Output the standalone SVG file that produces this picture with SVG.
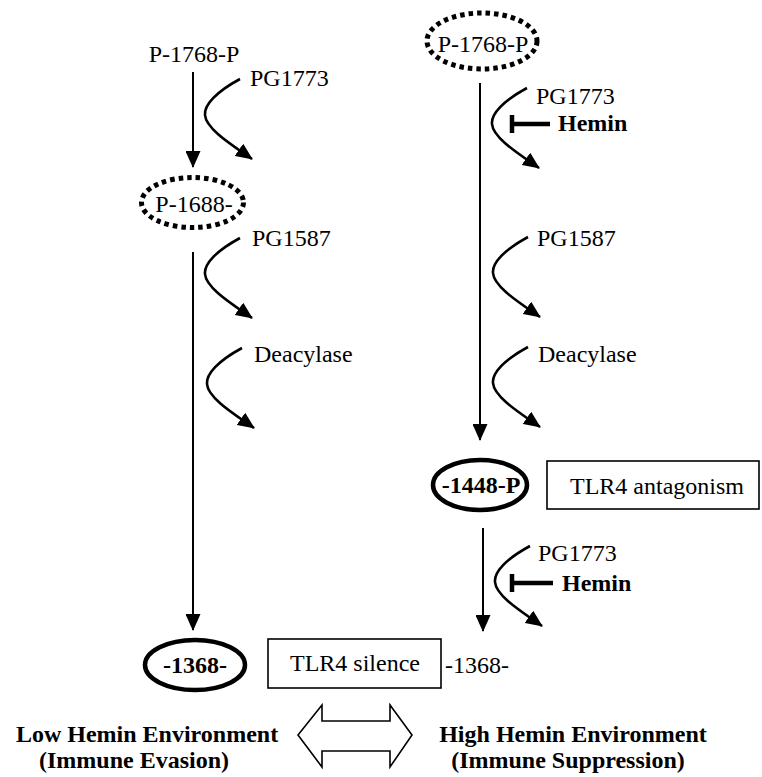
<svg xmlns="http://www.w3.org/2000/svg" xmlns:xlink="http://www.w3.org/1999/xlink" width="762" height="777" viewBox="0 0 762 777">
<style>
text{font-family:"Liberation Serif","Times New Roman",serif;font-size:24px;fill:#000}
.b{font-weight:bold}
.ln{stroke:#000;stroke-width:2;fill:none}
.cv{stroke:#000;stroke-width:2.6;fill:none}
.dot{fill:none;stroke:#000;stroke-width:5;stroke-dasharray:4.5 4}
.thick{fill:#fff;stroke:#000;stroke-width:4.5}
.box{fill:#fff;stroke:#000;stroke-width:1.6}
.bar{stroke:#000;stroke-width:4.5;fill:none}
</style>
<defs>
<marker id="ah" markerUnits="userSpaceOnUse" markerWidth="17" markerHeight="15" refX="16" refY="7.5" orient="auto">
<path d="M0,0 L17,7.5 L0,15 z" fill="#000"/>
</marker>
<path id="curve" d="M0,0 C-24,13 -36,26 -35,36 C-34,50 -8,66 12,80" class="cv" marker-end="url(#ah)"/>
</defs>

<g id="connectors">
<line class="ln" x1="193" y1="72" x2="193" y2="167" marker-end="url(#ah)"/>
<line class="ln" x1="193" y1="252" x2="193" y2="630" marker-end="url(#ah)"/>
<line class="ln" x1="480" y1="83" x2="480" y2="440" marker-end="url(#ah)"/>
<line class="ln" x1="483" y1="528" x2="483" y2="631" marker-end="url(#ah)"/>
<use xlink:href="#curve" x="240" y="79"/>
<use xlink:href="#curve" x="240" y="238"/>
<use xlink:href="#curve" x="242" y="348"/>
<use xlink:href="#curve" x="527" y="88"/>
<use xlink:href="#curve" x="528" y="237"/>
<use xlink:href="#curve" x="528" y="347"/>
<use xlink:href="#curve" x="530" y="546"/>
<path class="bar" d="M512,124 H550 M512,115 V133"/>
<path class="bar" d="M512,583 H553 M512,574 V592"/>
</g>

<g id="n-left-top"><text x="194" y="62" text-anchor="middle">P-1768-P</text></g>
<g id="lbl-pg1773-l"><text x="250" y="86">PG1773</text></g>
<g id="n-p1688">
<ellipse class="dot" cx="192.5" cy="202.5" rx="51" ry="25"/>
<text x="194" y="212" text-anchor="middle">P-1688-</text>
</g>
<g id="lbl-pg1587-l"><text x="252" y="246">PG1587</text></g>
<g id="lbl-deacylase-l"><text x="254" y="362">Deacylase</text></g>

<g id="n-right-top">
<ellipse class="dot" cx="482" cy="41" rx="55" ry="28"/>
<text x="483" y="52" text-anchor="middle">P-1768-P</text>
</g>
<g id="lbl-pg1773-r1"><text x="536" y="104">PG1773</text></g>
<g id="lbl-hemin-r1"><text class="b" x="558" y="131">Hemin</text></g>
<g id="lbl-pg1587-r"><text x="537" y="246">PG1587</text></g>
<g id="lbl-deacylase-r"><text x="538" y="362">Deacylase</text></g>

<g id="n-1448p">
<ellipse class="thick" cx="480" cy="485" rx="47" ry="25"/>
<text class="b" x="481" y="493" text-anchor="middle">-1448-P</text>
</g>
<g id="n-antagonism">
<rect class="box" x="547" y="461" width="212" height="48"/>
<text x="657" y="494" text-anchor="middle">TLR4 antagonism</text>
</g>
<g id="lbl-pg1773-r2"><text x="538" y="561">PG1773</text></g>
<g id="lbl-hemin-r2"><text class="b" x="562" y="591">Hemin</text></g>

<g id="n-1368-bold">
<ellipse class="thick" cx="195" cy="665" rx="50" ry="25"/>
<text class="b" x="195" y="673" text-anchor="middle">-1368-</text>
</g>
<g id="n-silence">
<rect class="box" x="268" y="639" width="173" height="49"/>
<text x="355" y="671" text-anchor="middle">TLR4 silence</text>
</g>
<g id="n-1368-plain"><text x="445" y="673">-1368-</text></g>

<g id="n-dblarrow">
<polygon points="298,735 322,705 322,721 390,721 390,705 412,735 390,767 390,751 322,751 322,767" fill="#fff" stroke="#000" stroke-width="1.6"/>
</g>
<g id="lbl-low">
<text class="b" x="147" y="742" text-anchor="middle">Low Hemin Environment</text>
<text class="b" x="134" y="768" text-anchor="middle">(Immune Evasion)</text>
</g>
<g id="lbl-high">
<text class="b" x="573" y="742" text-anchor="middle">High Hemin Environment</text>
<text class="b" x="568" y="768" text-anchor="middle">(Immune Suppression)</text>
</g>
</svg>
